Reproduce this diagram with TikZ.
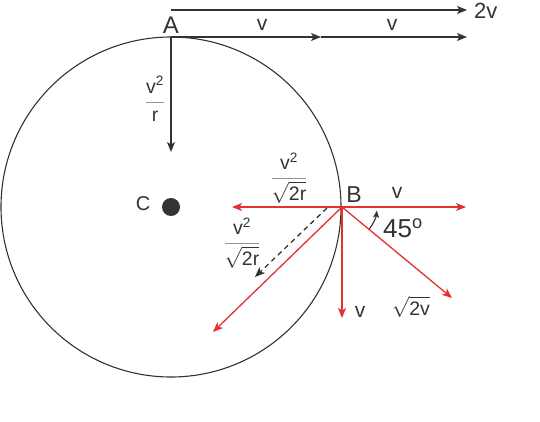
\documentclass[tikz,border=0pt]{standalone}
\usepackage{amsmath}
\usepackage{fontspec}
\setmainfont{Liberation Sans}
\usetikzlibrary{arrows.meta,calc}
\definecolor{ink}{RGB}{51,51,51}
\definecolor{vecred}{RGB}{224,50,50}
\definecolor{barg}{RGB}{150,150,150}

\begin{document}
\begin{tikzpicture}
        [x=1pt,y=-1pt,
        >={Stealth[length=10pt,width=8pt,inset=2.5pt]},
        every node/.style={text=ink,inner sep=0pt},
        lab/.style={font=\fontsize{21}{24}\selectfont},
        big/.style={font=\fontsize{24}{27}\selectfont},
        frac/.style={font=\fontsize{19.5}{22}\selectfont},
        blk/.style={->,draw=ink,line width=1.3pt},
        vec/.style={->,draw=vecred,line width=1.3pt}]
        \useasboundingbox (0,0) rectangle (540,422);
        \node[circle,fill=ink,minimum size=18pt] (C) at (171,207) {};
        \draw[ink,line width=1.1pt] (C.center) circle (170);
        %% point A
        \node[big] (A) at (171,25) {A};
        \coordinate (a0) at (171,37);
        \coordinate (t0) at (171,10);
        \coordinate (t1) at (467,10);
        \coordinate (am) at (321,37);
        \coordinate (ae) at (467,37);
        \coordinate (ad) at (171,152);
        \node[lab,font=\fontsize{22}{25}\selectfont,anchor=west] (tv) at (474,11) {2v};
        \node[lab] (va) at (262,25) {v};
        \node[lab] (vb) at (392,25) {v};
        \node[frac] (fa) at (155,99)
          {${\color{barg}\dfrac{\color{ink}\text{v\textsuperscript{2}}}{\color{ink}\text{r}}}$};
        \node[lab,font=\fontsize{20}{23}\selectfont] (Cl) at (143,204) {C};
        %% point B
        \node[big,font=\fontsize{23}{26}\selectfont] (B) at (354,195) {B};
        \coordinate (b0) at (342,207);
        \coordinate (br) at (466,207);
        \coordinate (bl) at (232,207);
        \coordinate (bd) at (342,318);
        \coordinate (bx) at (452,298);
        \coordinate (by) at (213,332);
        \coordinate (d0) at (327,208);
        \coordinate (d1) at (255,277);
        \node[lab] (vr) at (397,193) {v};
        \node[lab] (vd) at (360,312) {v};
        \node[frac] (fb) at (289,178)
          {${\color{barg}\dfrac{\color{ink}\text{v\textsuperscript{2}}}{\color{ink}\sqrt{\text{2r}}}}$};
        \node[frac] (fc) at (242,243)
          {${\color{barg}\dfrac{\color{ink}\text{v\textsuperscript{2}}}{\color{ink}\sqrt{\text{2r}}}}$};
        \node[frac] (fd) at (411,307) {$\sqrt{\text{2v}}$};
        \node[big,font=\fontsize{26}{29}\selectfont] (ang) at (403,228) {45\textsuperscript{o}};
        \path
        \foreach \startNode/\endNode in {t0/t1, a0/am, am/ae, a0/ad}
        {
          (\startNode) edge[blk] (\endNode)
        };
        \path
        \foreach \endNode in {br, bl, bd, bx, by}
        {
          (b0) edge[vec] (\endNode)
        };
        \draw[blk,dashed,dash pattern=on 5pt off 4pt] (d0) -- (d1);
        \draw[ink,line width=1.1pt,->,>={Stealth[length=7pt,width=6pt,inset=1.5pt]}]
          ($(b0)+(39:35)$) arc[start angle=39,end angle=6,radius=35];
        \end{tikzpicture}
\end{document}
